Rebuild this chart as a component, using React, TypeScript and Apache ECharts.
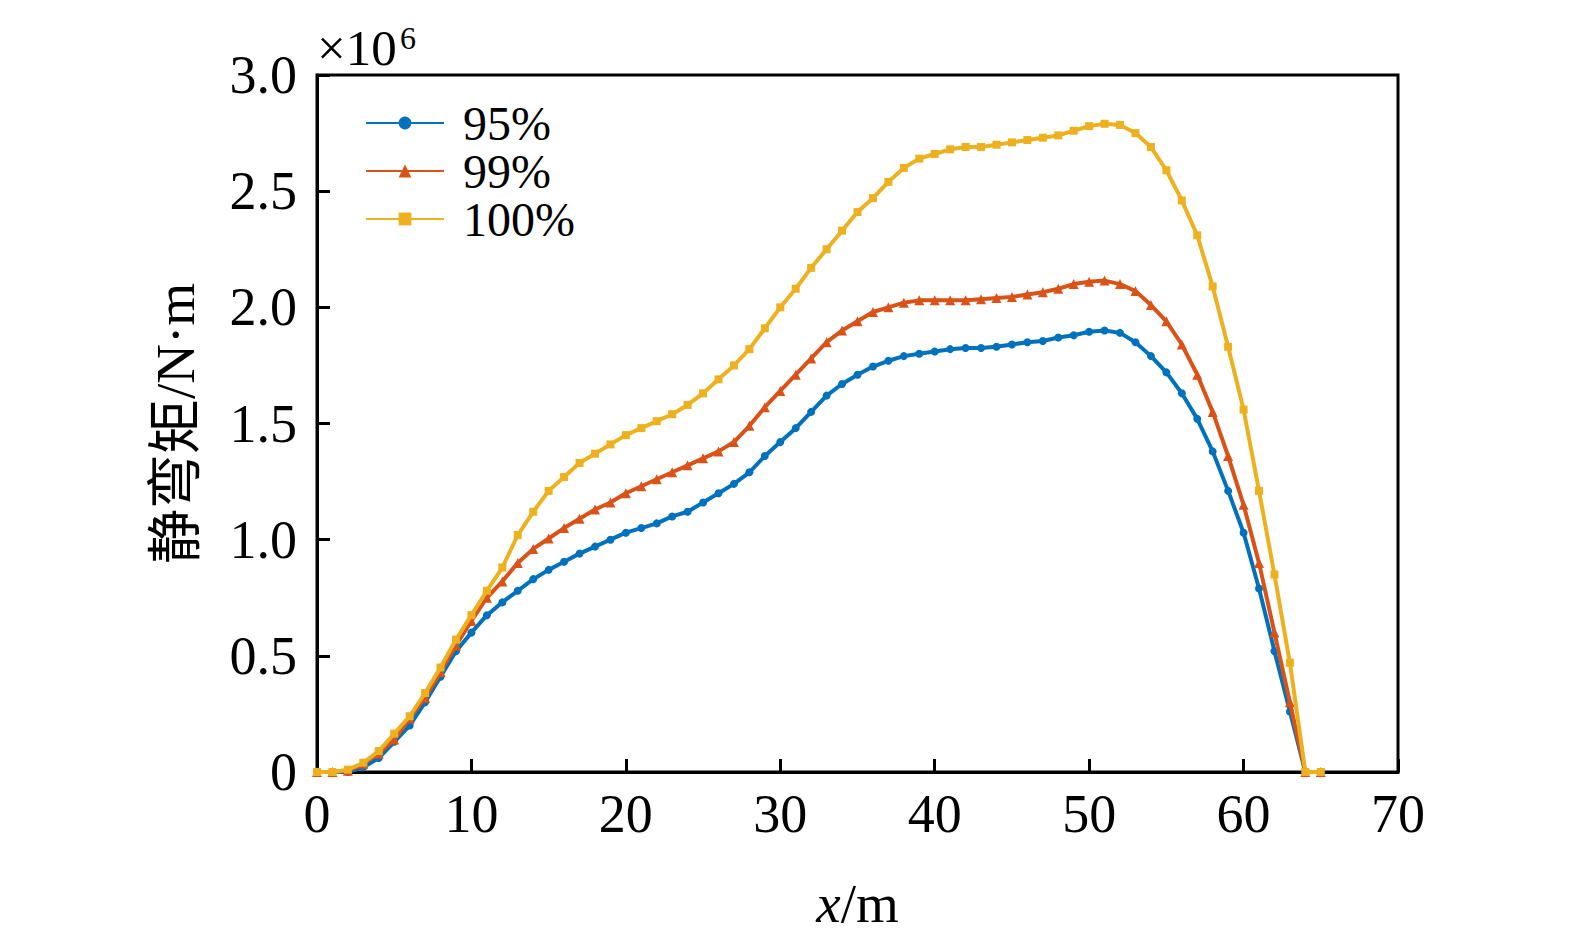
import React, { useEffect, useRef } from "react";
import * as echarts from "echarts";

const xs: number[] = [
  0, 1, 2, 3, 4, 5, 6, 7, 8, 9, 10, 11, 12, 13, 14, 15, 16, 17, 18, 19, 20,
  21, 22, 23, 24, 25, 26, 27, 28, 29, 30, 31, 32, 33, 34, 35, 36, 37, 38, 39, 40,
  41, 42, 43, 44, 45, 46, 47, 48, 49, 50, 51, 52, 53, 54, 55, 56, 57, 58, 59, 60,
  61, 62, 63, 64, 65,
];

const s95: number[] = [
  0, 0, 0, 0.02, 0.06, 0.13, 0.2, 0.3, 0.41, 0.52, 0.6, 0.675, 0.73, 0.78, 0.83, 0.87,
  0.905, 0.94, 0.97, 1.0, 1.03, 1.05, 1.07, 1.1, 1.12, 1.16, 1.2, 1.24, 1.29, 1.36,
  1.42, 1.48, 1.55, 1.62, 1.67, 1.71, 1.745, 1.77, 1.79, 1.8, 1.81, 1.82, 1.825,
  1.825, 1.83, 1.84, 1.85, 1.855, 1.87, 1.88, 1.895, 1.9, 1.89, 1.85, 1.79, 1.72,
  1.63, 1.52, 1.38, 1.21, 1.03, 0.79, 0.52, 0.26, 0, 0,
];

const s99: number[] = [
  0, 0, 0.005, 0.035, 0.08, 0.14, 0.23, 0.32, 0.43, 0.545, 0.65, 0.75, 0.82, 0.9,
  0.96, 1.005, 1.05, 1.09, 1.13, 1.16, 1.2, 1.23, 1.26, 1.29, 1.32, 1.35, 1.38, 1.42,
  1.49, 1.57, 1.64, 1.71, 1.78, 1.85, 1.9, 1.94, 1.98, 2.0, 2.02, 2.03, 2.03, 2.03,
  2.03, 2.035, 2.04, 2.045, 2.055, 2.065, 2.08, 2.1, 2.11, 2.115, 2.1, 2.07, 2.01,
  1.94, 1.84, 1.71, 1.55, 1.36, 1.15, 0.9, 0.6, 0.3, 0, 0,
];

const s100: number[] = [
  0, 0, 0.01, 0.04, 0.09, 0.165, 0.24, 0.34, 0.45, 0.57, 0.675, 0.78, 0.88, 1.02,
  1.12, 1.21, 1.27, 1.33, 1.37, 1.41, 1.45, 1.48, 1.51, 1.54, 1.58, 1.63, 1.69, 1.75,
  1.82, 1.91, 2.0, 2.08, 2.17, 2.25, 2.33, 2.41, 2.47, 2.54, 2.6, 2.64, 2.66, 2.68,
  2.69, 2.69, 2.7, 2.71, 2.72, 2.73, 2.74, 2.76, 2.78, 2.79, 2.785, 2.75, 2.69, 2.59,
  2.46, 2.31, 2.09, 1.83, 1.56, 1.21, 0.85, 0.47, 0, 0,
];

const seriesNames: string[] = ["95%", "99%", "100%"];
const seriesColors: string[] = ["#0072BD", "#D95319", "#EDB120"];
const seriesSymbols: string[] = ["circle", "triangle", "rect"];
const symbolSizes: number[] = [8, 10, 8];

const serif = "Liberation Serif";
const cjk = "Liberation Serif, Noto Sans CJK SC";

export default function App() {
  const ref = useRef<HTMLDivElement>(null);

  useEffect(() => {
    if (!ref.current) return;
    const chart = echarts.init(ref.current, undefined, { renderer: "svg" });
    const allData = [s95, s99, s100];
    const option: any = {
      animation: false,
      backgroundColor: "#fff",
      grid: {
        left: 317,
        top: 75,
        width: 1081,
        height: 697,
        show: true,
        borderColor: "#000",
        borderWidth: 3,
        backgroundColor: "transparent",
      },
      legend: {
        orient: "vertical",
        left: 360,
        top: 94,
        itemWidth: 78,
        itemHeight: 16,
        itemGap: 0,
        data: seriesNames,
        textStyle: {
          fontFamily: serif,
          fontSize: 48,
          lineHeight: 47,
          color: "#000",
          padding: [0, 0, 0, 14],
        },
      },
      xAxis: {
        type: "value",
        min: 0,
        max: 70,
        interval: 10,
        name: "{i|x}/m",
        nameLocation: "middle",
        nameGap: 104,
        nameTextStyle: {
          fontFamily: serif,
          fontSize: 55,
          color: "#000",
          rich: {
            i: { fontFamily: serif, fontSize: 55, fontStyle: "italic", color: "#000" },
          },
        },
        axisLine: { show: true, lineStyle: { color: "#000", width: 3 } },
        axisTick: { show: true, inside: true, length: 13, lineStyle: { color: "#000", width: 3 } },
        axisLabel: { fontFamily: serif, fontSize: 54, color: "#000", margin: 15 },
        splitLine: { show: false },
      },
      yAxis: {
        type: "value",
        min: 0,
        max: 3,
        interval: 0.5,
        name: "静弯矩/N·m",
        nameLocation: "middle",
        nameGap: 114,
        nameRotate: 90,
        nameTextStyle: { fontFamily: cjk, fontSize: 55, color: "#000" },
        axisLine: { show: true, lineStyle: { color: "#000", width: 3 } },
        axisTick: { show: true, inside: true, length: 13, lineStyle: { color: "#000", width: 3 } },
        axisLabel: {
          fontFamily: serif,
          fontSize: 54,
          color: "#000",
          margin: 20,
          formatter: (v: number) => (v === 0 ? "0" : v.toFixed(1)),
        },
        splitLine: { show: false },
      },
      graphic: [
        {
          type: "text",
          left: 317,
          top: 22,
          style: { text: "×10", fontFamily: serif, fontSize: 51, fill: "#000" },
        },
        {
          type: "text",
          left: 400,
          top: 22,
          style: { text: "6", fontFamily: serif, fontSize: 32, fill: "#000" },
        },
      ],
      series: seriesNames.map((name, i) => ({
        name,
        type: "line",
        data: xs.map((x, j) => [x, allData[i][j]]),
        symbol: seriesSymbols[i],
        symbolSize: symbolSizes[i],
        showSymbol: true,
        lineStyle: { color: seriesColors[i], width: 4 },
        itemStyle: { color: seriesColors[i] },
        z: 2 + i,
      })),
    };
    chart.setOption(option);
    return () => chart.dispose();
  }, []);

  return (
    <div
      ref={ref}
      style={{ position: "fixed", left: 0, top: 0, width: 1575, height: 937, background: "#fff" }}
    />
  );
}
